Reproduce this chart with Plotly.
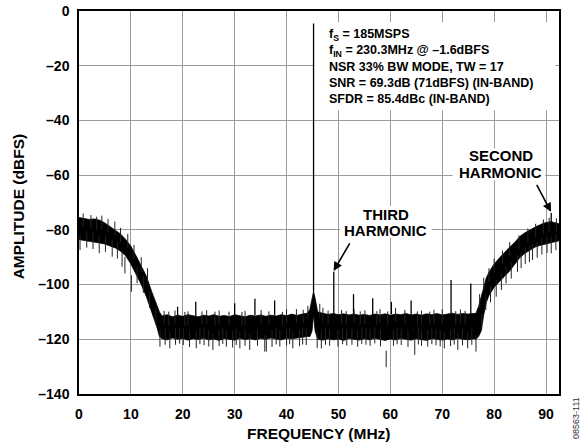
import plotly.graph_objects as go

# ---------------- data ----------------
# noise band envelope (solid black region of the FFT trace)
env_freq = [0, 1, 2, 3, 4, 5, 6, 7, 8, 9, 10, 11, 12, 13, 14, 15, 15.5,
            16, 17, 18, 19, 20, 21, 22, 23, 24, 25, 26, 27, 28, 29, 30, 31, 32, 33, 34,
            35, 36, 37, 38, 39, 40, 41, 42, 43, 44, 44.5, 44.9, 45.2, 45.5, 46,
            47, 48, 49, 50, 51, 52, 53, 54, 55, 56, 57, 58, 59, 60, 61, 62, 63, 64,
            65, 66, 67, 68, 69, 70, 71, 72, 73, 74, 75, 76, 76.5, 77, 77.5, 78, 78.5,
            79, 80, 81, 82, 83, 84, 85, 86, 87, 88, 89, 90, 91, 92, 92.5]
env_upper = [-75.5, -75.8, -76.2, -76.0, -76.5, -77.5, -78.8, -80.0, -81.5, -83.5, -86.0, -89.5, -93.5, -97.0, -102.5, -107.5, -110.0,
             -111.5, -111.0, -111.8, -111.2, -111.6, -111.0, -111.4, -111.8, -111.2, -111.5, -111.0, -111.6, -111.3, -111.7, -111.0, -111.4, -111.8, -111.2, -111.5,
             -111.1, -111.6, -111.2, -111.5, -111.0, -111.4, -110.8, -111.3, -110.8, -110.5, -109.0, -105.0, -102.5, -105.0, -110.0,
             -110.5, -110.9, -110.6, -111.0, -110.7, -111.1, -110.8, -111.2, -110.9, -111.3, -110.8, -111.1, -110.7, -111.2, -110.8, -111.0, -110.6, -111.1,
             -110.8, -111.2, -110.7, -111.0, -110.6, -111.1, -110.8, -110.5, -110.9, -110.6, -110.8, -110.6, -110.5, -108.0, -104.5, -100.5, -97.5,
             -95.5, -92.5, -90.3, -88.2, -86.3, -84.5, -82.3, -81.0, -79.8, -78.9, -78.0, -77.3, -77.0, -77.4, -77.8]
env_lower = [-83.5, -83.9, -84.2, -84.4, -84.8, -85.2, -85.8, -86.6, -87.8, -89.5, -92.5, -96.0, -100.0, -104.5, -110.0, -115.5, -119.0,
             -119.8, -120.2, -119.5, -120.0, -119.7, -120.3, -119.8, -120.1, -119.6, -120.2, -119.9, -120.4, -119.7, -120.0, -120.3, -119.6, -120.1, -119.8, -120.2,
             -119.7, -120.0, -119.5, -119.9, -120.2, -119.6, -119.8, -119.5, -119.3, -119.0, -119.0, -117.0, -111.0, -117.0, -120.0,
             -120.3, -119.8, -120.2, -119.9, -120.4, -119.7, -120.1, -120.3, -119.8, -120.2, -119.6, -120.0, -120.4, -119.9, -120.2, -119.7, -120.1, -120.3,
             -119.8, -120.0, -120.4, -119.7, -120.1, -120.3, -119.9, -120.2, -119.6, -120.0, -120.2, -119.8, -120.0, -119.0, -117.0, -111.0, -106.5,
             -104.0, -101.0, -99.0, -97.0, -95.0, -92.5, -90.0, -88.5, -87.2, -86.2, -85.6, -85.0, -84.6, -84.2, -84.0]

# upward tones / spurs: frequency (MHz), peak (dBFS), base (dBFS)
spur_freq = [19.0, 22.5, 30.0, 33.9, 37.7, 45.2, 49.1, 52.9, 56.6, 60.2, 64.0, 71.7, 75.5, 91.0]
spur_top = [-108.1, -106.3, -106.8, -105.2, -105.8, -4.6, -95.3, -103.5, -105.0, -106.3, -105.8, -98.3, -99.6, -73.8]
spur_base = [-111.5, -111.5, -111.0, -111.2, -111.2, -102.5, -110.6, -110.8, -111.0, -110.8, -111.0, -110.5, -110.8, -77.2]

# downward noise "grass" below the band: frequency, lowest value
grass_down_freq = [0.2, 1.5, 2.7, 3.9, 5.1, 6.4, 7.4, 8.3, 8.85, 10.1, 11.2, 12.4, 13.6, 14.8,
                   15.6, 16.6, 17.5, 18.6, 19.4, 20.1, 21.3, 22.6, 23.3, 24.1, 25.0, 25.8, 27.0, 27.7, 28.4, 29.6,
                   30.3, 31.0, 32.0, 32.9, 34.4, 35.8, 36.1, 37.2, 38.0, 38.7, 40.0, 40.6, 41.2, 42.5, 43.1, 43.8,
                   45.9, 46.7, 47.5, 48.3, 49.9, 50.8, 51.6, 52.6, 53.7, 54.5, 55.3, 56.1, 57.0, 58.1, 59.2,
                   60.6, 61.3, 62.1, 63.4, 64.7, 65.4, 66.0, 67.2, 68.0, 68.8, 69.6, 70.4, 71.6, 72.3, 73.0,
                   73.9, 74.9, 75.7, 76.5, 77.6, 78.4, 79.3, 80.4, 81.4, 82.3, 83.3, 84.5, 85.2, 86.0, 86.8,
                   87.4, 88.3, 89.2, 90.2, 91.0, 91.9]
grass_down_val = [-87.4, -86.5, -87.0, -88.5, -88.0, -89.8, -90.5, -93.5, -95.9, -102.6, -99.5, -103.0, -108.5, -114.5,
                  -122.7, -122.0, -123.3, -122.0, -121.6, -122.1, -122.8, -123.3, -121.8, -122.2, -122.6, -123.9, -122.5, -121.7, -122.7, -123.0,
                  -122.1, -123.3, -122.4, -123.9, -122.4, -124.5, -124.5, -122.8, -121.9, -122.7, -122.3, -121.8, -123.3, -122.5, -121.9, -122.1,
                  -123.2, -123.3, -122.0, -122.4, -122.7, -121.8, -122.3, -122.0, -122.7, -121.7, -122.0, -122.4, -121.5, -122.6, -130.2,
                  -122.4, -121.8, -122.1, -122.8, -125.7, -121.9, -122.4, -122.7, -121.8, -122.2, -122.6, -123.3, -122.5, -121.9, -123.9,
                  -122.2, -123.3, -122.0, -124.5, -116.5, -109.3, -106.5, -104.4, -102.0, -99.6, -97.8, -95.3, -94.0, -92.5, -91.8,
                  -91.0, -90.2, -89.0, -88.4, -88.6, -87.4]

# small upward noise "grass" above the band: frequency, highest value
grass_up_freq = [0.8, 2.3, 3.4, 4.4, 5.6, 6.9, 8.0, 9.4, 10.6, 12.0, 13.2,
                 16.4, 17.3, 18.5, 20.4, 21.0, 23.7, 24.6, 26.2, 27.0, 28.9, 31.4, 32.0, 35.1, 36.6, 39.2, 40.0,
                 41.9, 43.2, 44.1, 46.4, 47.0, 48.0, 50.6, 51.5, 53.0, 54.2, 55.1, 57.4, 58.0, 59.5, 61.0, 62.8,
                 65.2, 66.0, 67.6, 68.4, 70.0, 72.6, 73.5, 74.4,
                 77.2, 78.0, 79.0, 80.0, 81.6, 83.0, 84.8, 86.5, 88.0, 89.5, 90.6, 92.0]
grass_up_val = [-74.0, -74.6, -75.2, -74.8, -76.0, -77.0, -79.3, -81.5, -85.5, -90.0, -94.0,
                -109.6, -109.9, -109.5, -110.0, -109.8, -109.8, -109.4, -109.9, -109.5, -109.9, -110.0, -109.6, -109.3, -109.8, -110.0, -109.0,
                -109.0, -109.2, -107.8, -107.0, -108.5, -109.5, -109.3, -109.7, -109.0, -109.8, -109.4, -109.7, -109.0, -109.8, -108.5, -109.2,
                -109.8, -109.5, -109.9, -109.2, -109.0, -109.7, -109.1, -109.6,
                -103.5, -97.5, -94.0, -90.5, -87.6, -84.5, -82.0, -79.5, -77.8, -76.2, -75.6, -75.8]

x_ticks = [0, 10, 20, 30, 40, 50, 60, 70, 80, 90]
y_ticks = [0, -20, -40, -60, -80, -100, -120, -140]
y_tick_text = ["0", "–20", "–40", "–60", "–80", "–100", "–120", "–140"]

# ---------------- figure ----------------
fig = go.Figure()

band_x = env_freq + env_freq[::-1]
band_y = env_upper + env_lower[::-1]
fig.add_trace(go.Scatter(x=band_x, y=band_y, mode="lines", fill="toself",
                         fillcolor="black", line=dict(color="black", width=0.8),
                         hoverinfo="skip", showlegend=False))

gx, gy = [], []
for f, v in zip(grass_down_freq, grass_down_val):
    gx += [f, f, None]
    gy += [v + 6, v, None]
for f, v in zip(grass_up_freq, grass_up_val):
    gx += [f, f, None]
    gy += [v - 5, v, None]
fig.add_trace(go.Scatter(x=gx, y=gy, mode="lines", line=dict(color="#222", width=1),
                         hoverinfo="skip", showlegend=False))

sx, sy = [], []
for f, t, b0 in zip(spur_freq, spur_top, spur_base):
    sx += [f, f, None]
    sy += [b0, t, None]
fig.add_trace(go.Scatter(x=sx, y=sy, mode="lines", line=dict(color="black", width=1.3),
                         hoverinfo="skip", showlegend=False))

font_family = "Liberation Sans, Arial, sans-serif"
tick_font = dict(family=font_family, size=14, color="black")
title_font = dict(family=font_family, size=15.5, color="black")
label_font = dict(family=font_family, size=15, color="black")


def b(s):
    return "<b>" + s + "</b>"


annotations = [
    dict(x=47.85, y=-5.0, xref="x", yref="y", xanchor="left", yanchor="top", align="left",
         showarrow=False,
         text=b("f<sub>S</sub> = 185MSPS<br>f<sub>IN</sub> = 230.3MHz @ –1.6dBFS<br>"
                "NSR 33% BW MODE, TW = 17<br>SNR = 69.3dB (71dBFS) (IN-BAND)<br>"
                "SFDR = 85.4dBc (IN-BAND)"),
         font=dict(family=font_family, size=12.5, color="black")),
    dict(x=81.3, y=-52.9, xref="x", yref="y", showarrow=False, text=b("SECOND"), font=label_font),
    dict(x=81.3, y=-58.9, xref="x", yref="y", showarrow=False, text=b("HARMONIC"), font=label_font),
    dict(x=59.1, y=-74.3, xref="x", yref="y", showarrow=False, text=b("THIRD"), font=label_font),
    dict(x=59.1, y=-80.2, xref="x", yref="y", showarrow=False, text=b("HARMONIC"), font=label_font),
    dict(x=90.95, y=-73.4, ax=88.06, ay=-63.0, xref="x", yref="y", axref="x", ayref="y",
         text="", showarrow=True, arrowhead=2, arrowsize=1.1, arrowwidth=1.6, arrowcolor="black"),
    dict(x=49.07, y=-95.0, ax=52.34, ay=-84.4, xref="x", yref="y", axref="x", ayref="y",
         text="", showarrow=True, arrowhead=2, arrowsize=1.1, arrowwidth=1.6, arrowcolor="black"),
    dict(x=-0.127, y=0.49, xref="paper", yref="paper", xanchor="center", yanchor="middle",
         showarrow=False, textangle=-90, text=b("AMPLITUDE (dBFS)"), font=title_font),
    dict(x=0.5, y=-0.102, xref="paper", yref="paper", xanchor="center", yanchor="middle",
         showarrow=False, text=b("FREQUENCY (MHz)"), font=title_font),
    dict(x=1.035, y=-0.063, xref="paper", yref="paper", xanchor="center", yanchor="middle",
         showarrow=False, textangle=-90, text="08563-111",
         font=dict(family=font_family, size=9, color="#333")),
]

# white backgrounds that interrupt the grid behind the text blocks
text_backgrounds = [
    dict(type="rect", xref="x", yref="y", x0=45.35, x1=91.8, y0=-36.3, y1=-4.1,
         fillcolor="white", line=dict(width=0), layer="between"),
    dict(type="rect", xref="x", yref="y", x0=72.0, x1=89.8, y0=-62.0, y1=-50.2,
         fillcolor="white", line=dict(width=0), layer="between"),
    dict(type="rect", xref="x", yref="y", x0=50.3, x1=68.0, y0=-83.0, y1=-71.3,
         fillcolor="white", line=dict(width=0), layer="between"),
]

fig.update_layout(
    width=582, height=448,
    margin=dict(l=79, r=23, t=11, b=54, autoexpand=False),
    paper_bgcolor="white", plot_bgcolor="white",
    showlegend=False,
    font=tick_font,
    annotations=annotations,
    shapes=text_backgrounds,
)
fig.update_xaxes(range=[0, 92.5], tickvals=x_ticks, ticktext=[b(str(v)) for v in x_ticks],
                 ticks="", showgrid=True, automargin=False,
                 gridcolor="#9a9a9a", gridwidth=1, showline=True, linecolor="black",
                 linewidth=1.5, mirror=True, zeroline=False, ticklabelstandoff=6,
                 ticklabeloverflow="allow", tickfont=tick_font)
fig.update_yaxes(range=[-140, 0], tickvals=y_ticks, ticktext=[b(t) for t in y_tick_text],
                 ticks="", automargin=False,
                 showgrid=True, gridcolor="#9a9a9a", gridwidth=1, showline=True,
                 linecolor="black", linewidth=1.5, mirror=True, zeroline=False,
                 ticklabelstandoff=5, ticklabeloverflow="allow", tickfont=tick_font)

# remove the browser's default 8px page margin so the figure fills the window exactly
fig.write_html("out.html", config={"displayModeBar": False},
               post_script="document.body.style.margin='0px';")
